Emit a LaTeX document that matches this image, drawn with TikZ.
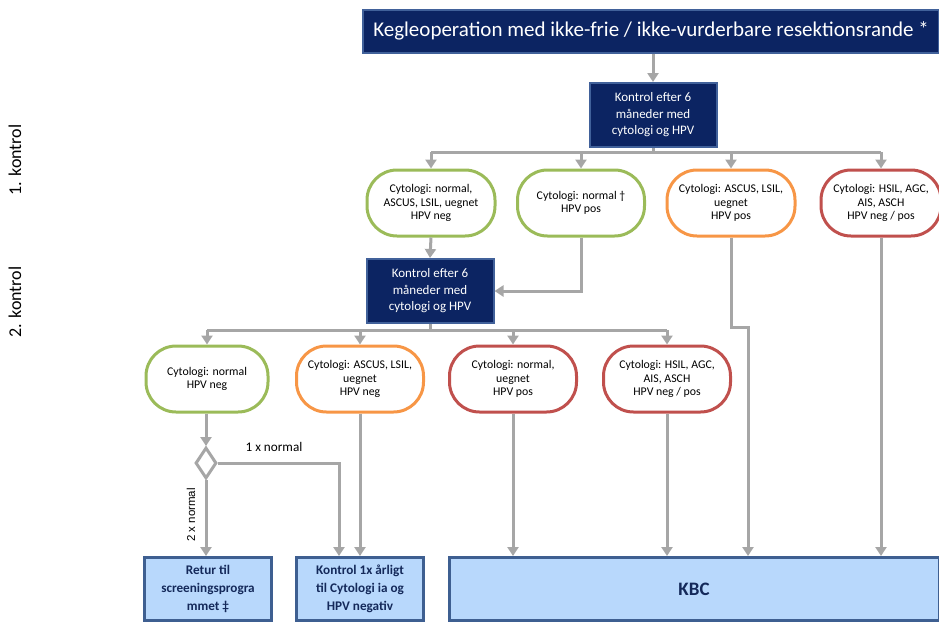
\documentclass[tikz,border=0pt]{standalone}
\usepackage{fontspec}
\setmainfont{Carlito}
\newfontfamily\arialfont{Liberation Sans}
\usetikzlibrary{arrows.meta,shapes.geometric,shadows}

\definecolor{navy}{HTML}{0C2462}
\definecolor{navyedge}{HTML}{41619A}
\definecolor{paleblue}{HTML}{B8D8FC}
\definecolor{paleedge}{HTML}{3E5F91}
\definecolor{deepnavy}{HTML}{14295A}
\definecolor{linegray}{HTML}{A6A6A6}
\definecolor{okgreen}{HTML}{9BBB59}
\definecolor{warnorange}{HTML}{F79646}
\definecolor{alertred}{HTML}{C0504D}

\tikzset{
  navybox/.style={draw=navyedge, line width=2pt, fill=navy, text=white,
    align=center, inner sep=2pt,
    drop shadow={shadow xshift=1.2pt, shadow yshift=-1.2pt, opacity=0.6}},
  ctrlbox/.style={navybox, minimum width=127pt, minimum height=64pt,
    font=\fontsize{13}{16.5}\selectfont},
  resultbox/.style={draw, line width=3pt, fill=white, rounded corners=30pt,
    align=center, inner sep=2pt, minimum height=66pt,
    font=\fontsize{11.8}{13.2}\selectfont},
  greenbox/.style={resultbox, draw=okgreen},
  orangebox/.style={resultbox, draw=warnorange},
  redbox/.style={resultbox, draw=alertred},
  endbox/.style={draw=paleedge, line width=3pt, fill=paleblue, text=deepnavy,
    align=center, inner sep=2pt, minimum height=63pt,
    font=\bfseries\fontsize{13.2}{18}\selectfont},
  link/.style={draw=linegray, line width=3pt},
  arrowlink/.style={link, -{Triangle[width=11pt,length=9pt]}},
  decision/.style={diamond, draw=linegray, line width=3pt, fill=white,
    minimum width=21pt, minimum height=31pt, inner sep=0pt},
  sidelabel/.style={rotate=90, font=\fontsize{18}{21}\selectfont},
  edgelabel/.style={font=\fontsize{13.2}{15}\selectfont, inner sep=1pt}
}

\begin{document}
\begin{tikzpicture}[x=1pt,y=-1pt]
\useasboundingbox (0,0) rectangle (939,622);

% row headings
\node[sidelabel] (lab1) at (15,160) {1. kontrol};
\node[sidelabel] (lab2) at (15,302) {2. kontrol};

% starting point
\node[navybox, minimum width=576pt, minimum height=43pt,
      font=\fontsize{21}{24}\selectfont] (top) at (651,31)
  {Kegleoperation med ikke-frie / ikke-vurderbare resektionsrande *};

% first control
\node[ctrlbox] (k1) at (653,115) {Kontrol efter 6\\måneder med\\cytologi og HPV};

\node[greenbox, minimum width=128pt] (a1) at (431,203)
  {Cytologi: normal,\\ASCUS, LSIL, uegnet\\HPV neg};
\node[greenbox, minimum width=127pt] (a2) at (581,203)
  {Cytologi: normal †\\HPV pos};
\node[orangebox, minimum width=128pt] (a3) at (731,203)
  {Cytologi: ASCUS, LSIL,\\uegnet\\HPV pos};
\node[redbox, minimum width=120pt] (a4) at (881,203)
  {Cytologi: HSIL, AGC,\\AIS, ASCH\\HPV neg / pos};

% second control
\node[ctrlbox] (k2) at (430,291) {Kontrol efter 6\\måneder med\\cytologi og HPV};

\node[greenbox, minimum width=122pt] (c1) at (207,379)
  {Cytologi: normal\\HPV neg};
\node[orangebox, minimum width=127pt] (c2) at (360,379)
  {Cytologi: ASCUS, LSIL,\\uegnet\\HPV neg};
\node[redbox, minimum width=127pt] (c3) at (513,379)
  {Cytologi: normal,\\uegnet\\HPV pos};
\node[redbox, minimum width=127pt] (c4) at (667,379)
  {Cytologi: HSIL, AGC,\\AIS, ASCH\\HPV neg / pos};

% outcomes
\node[decision] (dec) at (206,463) {};
\node[endbox, minimum width=127pt] (r1) at (208,589)
  {Retur til\\screeningsprogra\\mmet ‡};
\node[endbox, minimum width=127pt] (r2) at (360,589)
  {Kontrol 1x årligt\\til Cytologi ia og\\HPV negativ};
\node[endbox, minimum width=490pt, font=\bfseries\fontsize{19}{22}\selectfont]
  (kbc) at (694,589) {KBC};

% connectors: start to first control
\draw[arrowlink] (top.south -| k1.north) -- (k1.north);

% first control branches
\coordinate (br1) at (653,152);
\draw[link] (k1.south) -- (br1);
\draw[link] (br1 -| a1.north) -- (br1 -| a4.north);
\foreach \n in {a1,a2,a3,a4}
  \draw[arrowlink] (br1 -| \n.north) -- (\n.north);

% into second control
\draw[arrowlink] (a1.south) -- (k2.north);
\draw[arrowlink] (a2.south) |- (k2.east);

% first-control results straight to KBC
\coordinate (jog) at (748,327);
\draw[arrowlink] (a3.south) |- (jog) -- (jog |- kbc.north);
\draw[arrowlink] (a4.south) -- (a4.south |- kbc.north);

% second control branches
\coordinate (br2) at (430,330);
\draw[link] (k2.south) -- (br2);
\draw[link] (br2 -| c1.north) -- (br2 -| c4.north);
\foreach \n in {c1,c2,c3,c4}
  \draw[arrowlink] (br2 -| \n.north) -- (\n.north);

% outcomes of second control
\draw[arrowlink] (c1.south -| dec.north) -- (dec.north);
\draw[arrowlink] (dec.east) -| ([xshift=-21pt]r2.north);
\draw[arrowlink] (dec.south) -- (dec.south |- r1.north);
\draw[arrowlink] (c2.south) -- (c2.south |- r2.north);
\draw[arrowlink] (c3.south) -- (c3.south |- kbc.north);
\draw[arrowlink] (c4.south) -- (c4.south |- kbc.north);

% edge labels
\node[edgelabel] (once) at (274,447) {1 x normal};
\node[rotate=90, font=\arialfont\fontsize{11.5}{13}\selectfont, inner sep=1pt]
  (twice) at (191,515) {2 x normal};
\end{tikzpicture}
\end{document}
